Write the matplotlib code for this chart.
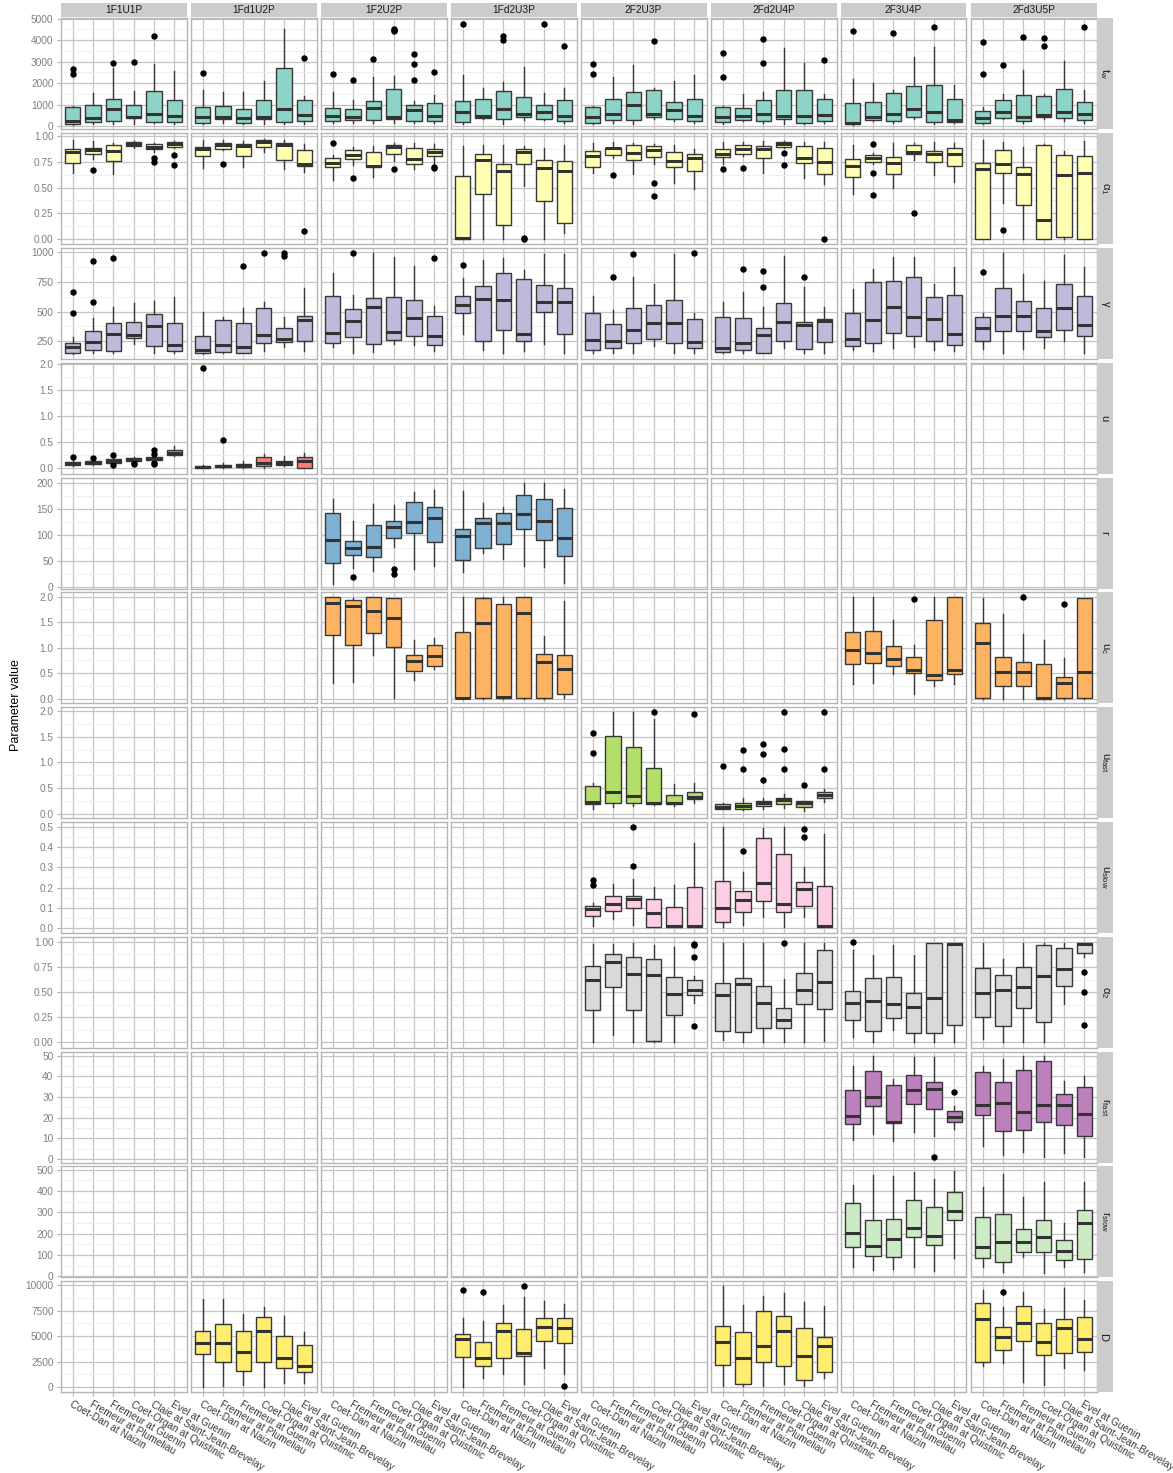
import matplotlib
matplotlib.use("Agg")
import matplotlib.pyplot as plt
from matplotlib.ticker import FixedLocator

plt.rcParams['font.family'] = ['Liberation Sans', 'DejaVu Sans']
plt.rcParams['mathtext.fontset'] = 'custom'
plt.rcParams['mathtext.rm'] = 'Liberation Sans'
plt.rcParams['mathtext.it'] = 'Liberation Sans:italic'

MODELS = ["1F1U1P", "1Fd1U2P", "1F2U2P", "1Fd2U3P",
          "2F2U3P", "2Fd2U4P", "2F3U4P", "2Fd3U5P"]
CATCHMENTS = ["Coet-Dan at Naizin", "Fremeur at Plumeliau", "Fremeur at Guenin",
              "Coet-Organ at Quistinic", "Claie at Saint-Jean-Brevelay", "Evel at Guenin"]

# Box summaries per catchment: (whisker low, q1, median, q3, whisker high, outliers)
TW = {
    "1F1U1P": [(50, 108, 231, 877, 950, [2646, 2415]), (108, 200, 354, 985, 1523, []),
               (108, 231, 815, 1262, 2677, [2923]), (77, 354, 431, 1000, 1646, [3000]),
               (138, 200, 554, 1631, 2877, [4200]), (108, 185, 446, 1215, 2538, [])],
    "1Fd1U2P": [(77, 138, 400, 877, 1677, [2446]), (138, 338, 400, 938, 1600, []),
                (108, 154, 354, 800, 1600, []), (108, 338, 400, 1215, 2108, []),
                (108, 185, 785, 2677, 4492, []), (108, 231, 492, 1231, 1385, [3154])],
    "1F2U2P": [(140, 215, 446, 846, 1600, [2415]), (140, 262, 400, 800, 1231, [2154]),
               (140, 262, 846, 1185, 2292, [3138]), (140, 338, 400, 1723, 2323, [4523, 4477, 4415]),
               (140, 231, 754, 985, 1185, [3369, 2877, 2154]), (140, 215, 477, 1062, 1446, [2523])],
    "1Fd2U3P": [(108, 169, 646, 1169, 2369, [4754]), (323, 369, 446, 1246, 1769, []),
                (108, 338, 785, 1615, 2031, [4200, 3985]), (262, 415, 554, 1354, 2769, []),
                (262, 323, 662, 969, 1538, [4754]), (138, 231, 446, 1200, 1769, [3723])],
    "2F2U3P": [(108, 154, 415, 877, 954, [2892, 2415]), (138, 262, 554, 1246, 2277, []),
               (108, 292, 1000, 1585, 2846, []), (323, 400, 569, 1662, 1769, [3969]),
               (231, 308, 769, 1123, 2108, []), (138, 231, 446, 1246, 2385, [])],
    "2Fd2U4P": [(108, 169, 400, 892, 938, [3385, 2292]), (231, 292, 477, 831, 1477, []),
                (138, 215, 569, 1231, 1600, [4062, 2923]), (108, 323, 477, 1677, 3646, []),
                (108, 138, 446, 1677, 2954, []), (138, 215, 523, 1246, 1492, [3092])],
    "2F3U4P": [(60, 100, 154, 1062, 2200, [4400]), (231, 292, 431, 1123, 2015, []),
               (138, 246, 538, 1538, 1677, [4338]), (323, 431, 785, 1846, 3200, []),
               (108, 169, 662, 1892, 3677, [4600]), (138, 200, 277, 1262, 1908, [])],
    "2Fd3U5P": [(108, 154, 385, 708, 877, [3908, 2431]), (323, 385, 646, 1231, 1492, [2831]),
                (138, 215, 400, 1431, 2615, [4154]), (323, 415, 508, 1415, 1492, [4108, 3708]),
                (231, 354, 677, 1708, 3031, []), (138, 277, 538, 1123, 1677, [4600])],
}

ALPHA1 = {
    "1F1U1P": [(0.647, 0.739, 0.853, 0.876, 0.964, []), (0.775, 0.827, 0.869, 0.892, 0.951, [0.673]),
               (0.631, 0.758, 0.856, 0.918, 0.935, []), (0.889, 0.905, 0.928, 0.948, 0.958, []),
               (0.853, 0.876, 0.902, 0.922, 0.941, [0.791, 0.748]), (0.886, 0.902, 0.925, 0.944, 0.958, [0.820, 0.725])],
    "1Fd1U2P": [(0.696, 0.810, 0.873, 0.902, 0.964, []), (0.866, 0.882, 0.918, 0.935, 0.964, [0.732]),
                (0.703, 0.807, 0.905, 0.922, 0.951, []), (0.853, 0.895, 0.944, 0.967, 0.974, []),
                (0.686, 0.771, 0.912, 0.935, 0.967, []), (0.654, 0.716, 0.732, 0.866, 0.925, [0.075])],
    "1F2U2P": [(0.572, 0.703, 0.745, 0.791, 0.820, [0.938]), (0.722, 0.778, 0.817, 0.863, 0.902, [0.598]),
               (0.608, 0.699, 0.712, 0.846, 0.908, []), (0.758, 0.827, 0.899, 0.915, 0.941, [0.680]),
               (0.680, 0.732, 0.775, 0.889, 0.941, []), (0.729, 0.810, 0.853, 0.873, 0.925, [0.700, 0.690])],
    "1Fd2U3P": [(0.0, 0.0, 0.01, 0.614, 0.905, []), (0.0, 0.441, 0.768, 0.824, 0.912, []),
                (0.0, 0.134, 0.663, 0.729, 0.918, []), (0.52, 0.729, 0.853, 0.876, 0.91, [0.01, 0.0]),
                (0.0, 0.373, 0.690, 0.768, 0.889, []), (0.052, 0.154, 0.663, 0.758, 0.918, [])],
    "2F2U3P": [(0.641, 0.699, 0.807, 0.856, 0.941, []), (0.794, 0.817, 0.886, 0.892, 0.948, [0.627]),
               (0.631, 0.768, 0.837, 0.912, 0.935, []), (0.729, 0.797, 0.863, 0.905, 0.931, [0.546, 0.415]),
               (0.542, 0.703, 0.758, 0.846, 0.915, []), (0.484, 0.660, 0.794, 0.824, 0.876, [])],
    "2Fd2U4P": [(0.729, 0.801, 0.833, 0.873, 0.948, [0.683]), (0.810, 0.833, 0.879, 0.915, 0.948, [0.696]),
                (0.647, 0.788, 0.873, 0.908, 0.951, []), (0.889, 0.899, 0.922, 0.944, 0.954, [0.837, 0.719]),
                (0.592, 0.745, 0.794, 0.905, 0.948, []), (0.539, 0.637, 0.752, 0.892, 0.948, [0.0])],
    "2F3U4P": [(0.441, 0.601, 0.709, 0.778, 0.915, []), (0.729, 0.755, 0.788, 0.817, 0.843, [0.925, 0.647, 0.428]),
               (0.5, 0.637, 0.739, 0.797, 0.941, []), (0.768, 0.827, 0.850, 0.915, 0.941, [0.252]),
               (0.621, 0.748, 0.824, 0.859, 0.948, []), (0.556, 0.716, 0.827, 0.886, 0.935, [])],
    "2Fd3U5P": [(0.0, 0.0, 0.683, 0.745, 0.961, []), (0.353, 0.644, 0.735, 0.866, 0.944, [0.082]),
                (0.0, 0.327, 0.637, 0.699, 0.899, []), (0.0, 0.0, 0.186, 0.915, 0.93, []),
                (0.0, 0.02, 0.621, 0.820, 0.86, []), (0.0, 0.0, 0.647, 0.807, 0.951, [])],
}

GAMMA = {
    "1F1U1P": [(143, 149, 199, 236, 284, [669, 486]), (152, 180, 242, 337, 449, [927, 581]),
               (152, 171, 309, 402, 542, [955]), (228, 278, 301, 410, 573, []),
               (152, 208, 376, 480, 593, []), (152, 166, 216, 404, 621, [])],
    "1Fd1U2P": [(143, 149, 180, 292, 494, []), (155, 163, 219, 427, 458, []),
                (149, 152, 199, 404, 531, [888]), (171, 236, 301, 528, 579, [994]),
                (199, 242, 267, 365, 458, [994, 966]), (166, 250, 430, 466, 699, [])],
    "1F2U2P": [(199, 233, 323, 629, 823, []), (152, 287, 424, 525, 643, [994]),
               (157, 230, 542, 615, 994, []), (228, 264, 326, 626, 963, []),
               (222, 295, 449, 598, 888, []), (171, 219, 295, 466, 545, [949])],
    "1Fd2U3P": [(312, 492, 556, 632, 784, [896]), (180, 253, 610, 713, 935, []),
                (149, 346, 601, 823, 952, []), (171, 253, 309, 775, 851, []),
                (228, 494, 584, 725, 986, []), (149, 312, 579, 702, 986, [])],
    "2F2U3P": [(152, 174, 261, 492, 635, []), (152, 191, 253, 399, 514, [795]),
               (149, 233, 346, 531, 795, [983]), (213, 270, 402, 556, 733, []),
               (152, 236, 402, 601, 983, []), (152, 197, 242, 435, 489, [994])],
    "2Fd2U4P": [(152, 160, 191, 455, 579, []), (152, 177, 233, 447, 669, [857]),
                (149, 152, 301, 360, 542, [846, 711]), (191, 253, 413, 576, 972, []),
                (152, 183, 390, 413, 705, [789]), (152, 247, 424, 435, 542, [])],
    "2F3U4P": [(180, 208, 272, 486, 688, []), (166, 233, 433, 747, 857, []),
               (191, 320, 542, 758, 963, []), (199, 295, 452, 792, 963, []),
               (177, 250, 438, 621, 733, []), (166, 219, 315, 643, 874, [])],
    "2Fd3U5P": [(185, 250, 365, 452, 486, [837]), (152, 340, 461, 702, 992, []),
                (185, 334, 463, 587, 817, []), (191, 284, 334, 531, 761, []),
                (250, 346, 534, 730, 980, []), (149, 295, 385, 629, 874, [])],
}

U = {
    "1F1U1P": [(0.04, 0.064, 0.09, 0.115, 0.154, [0.212]), (0.064, 0.077, 0.103, 0.128, 0.15, [0.19]),
               (0.083, 0.103, 0.141, 0.167, 0.2, [0.244, 0.064]), (0.128, 0.141, 0.167, 0.186, 0.21, [0.096, 0.077]),
               (0.128, 0.147, 0.18, 0.205, 0.224, [0.34, 0.27, 0.10, 0.08]), (0.224, 0.244, 0.295, 0.353, 0.417, [])],
    "1Fd1U2P": [(0.0, 0.0, 0.013, 0.032, 0.05, [1.92]), (0.0, 0.013, 0.045, 0.064, 0.096, [0.54]),
                (0.0, 0.013, 0.051, 0.077, 0.128, []), (0.0, 0.032, 0.096, 0.218, 0.276, []),
                (0.032, 0.051, 0.096, 0.141, 0.224, []), (0.0, 0.0, 0.141, 0.21, 0.288, [])],
}

R = {
    "1F2U2P": [(4.5, 46, 90, 141, 168, []), (35.5, 61, 74, 88, 126, [18]),
               (30, 57, 77, 119, 159, []), (76, 94, 115, 127, 157, [35, 24]),
               (34, 104, 124, 162, 182, []), (39, 85, 132, 154, 185, [])],
    "1Fd2U3P": [(29, 51, 97, 111, 184, []), (64, 74, 123, 132, 161, []),
                (54, 83, 123, 141, 153, []), (39, 111, 139, 177, 199, []),
                (37, 90, 127, 168, 199, []), (8, 59, 93, 152, 187, [])],
}

UC = {
    "1F2U2P": [(0.315, 1.246, 1.869, 1.987, 1.99, []), (0.328, 1.062, 1.823, 1.934, 1.967, []),
               (0.852, 1.292, 1.711, 1.987, 1.99, []), (0.02, 1.01, 1.587, 1.967, 1.97, []),
               (0.367, 0.538, 0.734, 0.852, 1.154, []), (0.577, 0.649, 0.846, 1.062, 1.187, [])],
    "1Fd2U3P": [(0.0, 0.007, 0.013, 1.298, 1.987, []), (0.0, 0.013, 1.482, 1.974, 1.99, []),
                (0.0, 0.013, 0.026, 1.862, 1.987, []), (0.0, 0.013, 1.685, 1.987, 1.99, []),
                (0.0, 0.007, 0.721, 0.879, 1.22, []), (0.02, 0.085, 0.577, 0.859, 1.921, [])],
    "2F3U4P": [(0.295, 0.675, 0.957, 1.298, 1.987, []), (0.302, 0.695, 0.905, 1.325, 1.987, []),
               (0.479, 0.636, 0.78, 1.023, 1.541, []), (0.098, 0.511, 0.564, 0.826, 1.049, [1.948]),
               (0.249, 0.367, 0.472, 1.534, 1.987, []), (0.282, 0.485, 0.57, 1.987, 1.99, [])],
    "2Fd3U5P": [(0.0, 0.007, 1.095, 1.475, 1.974, []), (0.0, 0.256, 0.525, 0.826, 1.659, []),
                (0.0, 0.256, 0.525, 0.728, 1.266, [1.987]), (0.0, 0.0, 0.013, 0.689, 1.148, []),
                (0.0, 0.007, 0.308, 0.433, 0.807, [1.856]), (0.0, 0.007, 0.525, 1.974, 1.98, [])],
}

UFAST = {
    "2F2U3P": [(0.085, 0.177, 0.23, 0.538, 0.6, [1.574, 1.18]), (0.118, 0.203, 0.426, 1.515, 1.987, []),
               (0.151, 0.197, 0.348, 1.311, 1.987, []), (0.16, 0.184, 0.21, 0.892, 1.856, [1.987]),
               (0.138, 0.177, 0.21, 0.361, 0.577, []), (0.197, 0.282, 0.315, 0.413, 0.59, [1.941])],
    "2Fd2U4P": [(0.079, 0.098, 0.131, 0.184, 0.2, [0.931]), (0.07, 0.098, 0.151, 0.197, 0.295, [1.246, 0.866]),
                (0.085, 0.138, 0.197, 0.236, 0.295, [1.364, 1.16, 0.649]),
                (0.105, 0.19, 0.256, 0.302, 0.38, [1.987, 1.259, 0.872]),
                (0.04, 0.118, 0.21, 0.236, 0.25, [0.564]), (0.216, 0.295, 0.361, 0.42, 0.479, [1.987, 0.866])],
}

USLOW = {
    "2F2U3P": [(0.01, 0.06, 0.093, 0.111, 0.124, [0.237, 0.214]), (0.046, 0.085, 0.119, 0.16, 0.217, []),
               (0.018, 0.101, 0.144, 0.16, 0.243, [0.498, 0.307]), (0.005, 0.005, 0.075, 0.142, 0.201, []),
               (0.005, 0.005, 0.013, 0.106, 0.212, []), (0.008, 0.008, 0.013, 0.201, 0.417, [])],
    "2Fd2U4P": [(0.005, 0.031, 0.098, 0.23, 0.498, []), (0.018, 0.078, 0.141, 0.181, 0.275, [0.379]),
                (0.054, 0.132, 0.221, 0.446, 0.495, []), (0.005, 0.082, 0.118, 0.364, 0.498, []),
                (0.054, 0.111, 0.191, 0.225, 0.30, [0.487, 0.448]), (0.008, 0.008, 0.013, 0.209, 0.462, [])],
}

ALPHA2 = {
    "2F2U3P": [(0.0, 0.324, 0.621, 0.759, 0.983, []), (0.076, 0.552, 0.803, 0.876, 0.976, []),
               (0.0, 0.321, 0.683, 0.852, 0.99, []), (0.007, 0.014, 0.676, 0.831, 0.966, []),
               (0.0, 0.276, 0.479, 0.648, 0.945, []), (0.39, 0.476, 0.524, 0.621, 0.66, [0.976, 0.966, 0.855, 0.162])],
    "2Fd2U4P": [(0.021, 0.114, 0.469, 0.593, 0.99, []), (0.0, 0.107, 0.579, 0.645, 0.99, []),
                (0.0, 0.141, 0.397, 0.559, 0.99, []), (0.0, 0.148, 0.228, 0.345, 0.631, [0.993]),
                (0.007, 0.379, 0.521, 0.693, 0.99, []), (0.017, 0.331, 0.597, 0.917, 0.99, [])],
    "2F3U4P": [(0.059, 0.221, 0.39, 0.51, 0.921, [1.0]), (0.0, 0.114, 0.417, 0.638, 0.869, []),
               (0.121, 0.248, 0.383, 0.652, 0.966, []), (0.0, 0.09, 0.352, 0.497, 0.869, []),
               (0.0, 0.097, 0.438, 0.99, 0.99, []), (0.0, 0.176, 0.976, 0.99, 0.99, [])],
    "2Fd3U5P": [(0.034, 0.255, 0.49, 0.745, 0.99, []), (0.0, 0.166, 0.521, 0.669, 0.834, []),
                (0.0, 0.338, 0.552, 0.752, 0.99, []), (0.0, 0.207, 0.662, 0.972, 0.99, []),
                (0.379, 0.562, 0.734, 0.941, 0.99, []), (0.85, 0.893, 0.983, 0.99, 0.99, [0.697, 0.5, 0.172])],
}

RFAST = {
    "2F3U4P": [(9.3, 16.7, 20.7, 33.2, 45, []), (12.1, 25.4, 30.1, 42.4, 49.7, []),
               (8.9, 17.2, 18.0, 36.0, 38.6, []), (13, 26.8, 33.2, 40.8, 49.2, []),
               (11.3, 24.1, 34.0, 37.4, 49.2, [1.2]), (14.7, 17.7, 20.2, 23.4, 25.6, [32.5])],
    "2Fd3U5P": [(6.2, 21.2, 26.1, 41.9, 45, []), (2, 13.5, 27.1, 37.2, 48.5, []),
                (3.2, 14.0, 22.9, 43.1, 49.7, []), (0.8, 18.0, 26.1, 47.5, 49.7, []),
                (2.9, 16.3, 26.1, 31.2, 37.7, []), (0.8, 11.3, 21.7, 35.0, 40.2, [])],
}

RSLOW = {
    "2F3U4P": [(44, 136, 205, 344, 429, []), (28, 95, 143, 266, 475, []),
               (36, 90, 174, 270, 470, []), (41, 185, 226, 356, 487, []),
               (25, 148, 188, 323, 457, []), (87, 262, 308, 397, 495, [])],
    "2Fd3U5P": [(41, 85, 138, 279, 418, []), (20, 69, 161, 290, 479, []),
                (90, 115, 161, 221, 372, []), (16, 115, 185, 266, 443, []),
                (44, 74, 120, 169, 249, []), (21, 80, 249, 311, 441, [])],
}

D = {
    "1Fd1U2P": [(0, 3242, 4300, 5495, 8635, []), (68, 2491, 4369, 6177, 8635, []),
                (171, 1604, 3413, 5495, 7167, []), (0, 2491, 5529, 6860, 7850, []),
                (410, 1843, 2833, 5017, 6997, []), (341, 1468, 2048, 4130, 5358, [])],
    "1Fd2U3P": [(0, 2969, 4676, 5222, 6826, [9556]), (853, 2048, 2799, 4437, 6485, [9317]),
                (1263, 2833, 5461, 6280, 8089, []), (239, 3072, 3345, 5700, 8874, [9898]),
                (1877, 4539, 5939, 6792, 8464, []), (1263, 4334, 5768, 6792, 8191, [102])],
    "2Fd2U4P": [(68, 2150, 4403, 6041, 9898, []), (68, 239, 2833, 5393, 8021, []),
                (68, 2491, 3993, 7440, 8942, []), (273, 2048, 5529, 6997, 9215, []),
                (68, 683, 3003, 5802, 8362, []), (922, 1468, 3993, 4949, 7918, [])],
    "2Fd3U5P": [(2048, 2491, 6655, 8259, 9556, []), (2389, 3652, 4881, 5905, 7850, [9386]),
                (512, 4539, 6246, 7952, 9317, []), (171, 3174, 4403, 6314, 7679, []),
                (1877, 3311, 5802, 6655, 9727, []), (1706, 3413, 4676, 6894, 8533, [])],
}

# Facet rows: strip label, data, fill colour, y-limits, major breaks, label format
PARAMS = [
    (r"$\mathrm{t_w}$", TW, "#8DD3C7", (-150, 5010), [0, 1000, 2000, 3000, 4000, 5000], "{:.0f}"),
    (r"$\mathrm{\alpha_1}$", ALPHA1, "#FFFFB3", (-0.052, 1.033), [0, 0.25, 0.5, 0.75, 1.0], "{:.2f}"),
    (r"$\mathrm{\gamma}$", GAMMA, "#BEBADA", (102, 1037), [250, 500, 750, 1000], "{:.0f}"),
    (r"$\mathrm{u}$", U, "#FB8072", (-0.11, 2.02), [0, 0.5, 1.0, 1.5, 2.0], "{:.1f}"),
    (r"$\mathrm{r}$", R, "#80B1D3", (-3.3, 209.7), [0, 50, 100, 150, 200], "{:.0f}"),
    (r"$\mathrm{u_c}$", UC, "#FDB462", (-0.09, 2.085), [0, 0.5, 1.0, 1.5, 2.0], "{:.1f}"),
    (r"$\mathrm{u_{fast}}$", UFAST, "#B3DE69", (-0.09, 2.085), [0, 0.5, 1.0, 1.5, 2.0], "{:.1f}"),
    (r"$\mathrm{u_{slow}}$", USLOW, "#FCCDE5", (-0.023, 0.523), [0, 0.1, 0.2, 0.3, 0.4, 0.5], "{:.1f}"),
    (r"$\mathrm{\alpha_2}$", ALPHA2, "#D9D9D9", (-0.052, 1.052), [0, 0.25, 0.5, 0.75, 1.0], "{:.2f}"),
    (r"$\mathrm{r_{fast}}$", RFAST, "#BC80BD", (-1.7, 52.0), [0, 10, 20, 30, 40, 50], "{:.0f}"),
    (r"$\mathrm{r_{slow}}$", RSLOW, "#CCEBC5", (-5, 516), [0, 100, 200, 300, 400, 500], "{:.0f}"),
    (r"$\mathrm{D}$", D, "#FFED6F", (-511, 10413), [0, 2500, 5000, 7500, 10000], "{:.0f}"),
]

W, H = 1173, 1473
fig = plt.figure(figsize=(W / 100, H / 100), dpi=100)

PANEL_LEFT, PANEL_PITCH_X, PANEL_W = 60.5, 130.0, 126.0
PANEL_TOP, PANEL_PITCH_Y, PANEL_H = 18.3, 114.8, 111.0

GRID_MAJOR = "#C4C4C4"
GRID_MINOR = "#EDEDED"
BORDER = "#B5B5B5"
STRIP_BG = "#CCCCCC"
TEXT_AXIS = "#808080"
EDGE = "#383838"


def px_rect(x0, y0, w, h):
    return [x0 / W, 1 - (y0 + h) / H, w / W, h / H]


positions = list(range(1, len(CATCHMENTS) + 1))

for r, (label, data, colour, ylim, breaks, fmt) in enumerate(PARAMS):
    y0 = PANEL_TOP + r * PANEL_PITCH_Y
    for c, model in enumerate(MODELS):
        x0 = PANEL_LEFT + c * PANEL_PITCH_X
        ax = fig.add_axes(px_rect(x0, y0, PANEL_W, PANEL_H))
        ax.set_xlim(0.4, 6.6)
        ax.set_ylim(*ylim)
        ax.set_axisbelow(True)

        ax.xaxis.set_major_locator(FixedLocator(positions))
        ax.yaxis.set_major_locator(FixedLocator(breaks))
        step = breaks[1] - breaks[0]
        minors = [b - step / 2 for b in breaks] + [breaks[-1] + step / 2]
        ax.yaxis.set_minor_locator(FixedLocator(minors))

        ax.grid(which="minor", axis="y", color=GRID_MINOR, linewidth=0.6)
        ax.grid(which="major", axis="both", color=GRID_MAJOR, linewidth=0.9)
        for sp in ax.spines.values():
            sp.set_color(BORDER)
            sp.set_linewidth(1.0)

        ax.tick_params(which="major", length=3, width=0.8, color=BORDER,
                       labelsize=7.3, labelcolor=TEXT_AXIS, pad=2)
        ax.tick_params(which="minor", length=0)

        if c == 0:
            ax.set_yticklabels([fmt.format(b) for b in breaks])
        else:
            ax.tick_params(axis="y", labelleft=False, length=0)

        if r == len(PARAMS) - 1:
            ax.set_xticklabels(CATCHMENTS, rotation=-30, ha="left", va="top",
                               rotation_mode="anchor", fontsize=7.3, color="#3A3A3A")
        else:
            ax.tick_params(axis="x", labelbottom=False, length=0)

        boxes = data.get(model)
        if boxes:
            stats = [dict(whislo=b[0], q1=b[1], med=b[2], q3=b[3], whishi=b[4], fliers=b[5])
                     for b in boxes]
            ax.bxp(stats, positions=positions, widths=0.75, patch_artist=True,
                   showcaps=False, manage_ticks=False,
                   boxprops=dict(facecolor=colour, edgecolor=EDGE, linewidth=1.0),
                   medianprops=dict(color="#333333", linewidth=2.2, solid_capstyle="butt"),
                   whiskerprops=dict(color=EDGE, linewidth=1.0),
                   flierprops=dict(marker="o", markerfacecolor="black",
                                   markeredgecolor="black", markersize=3.6))

        # column strip above the first row
        if r == 0:
            sax = fig.add_axes(px_rect(x0, 3.3, PANEL_W, 14.0))
            sax.set_facecolor(STRIP_BG)
            sax.set_xticks([]); sax.set_yticks([])
            for sp in sax.spines.values():
                sp.set_visible(False)
            sax.text(0.5, 0.5, model, ha="center", va="center", fontsize=7.3,
                     color="#1A1A1A", transform=sax.transAxes)

    # row strip on the right
    rax = fig.add_axes(px_rect(PANEL_LEFT + 7 * PANEL_PITCH_X + PANEL_W + 0.5, y0, 16.0, PANEL_H))
    rax.set_facecolor(STRIP_BG)
    rax.set_xticks([]); rax.set_yticks([])
    for sp in rax.spines.values():
        sp.set_visible(False)
    rax.text(0.5, 0.5, label, ha="center", va="center", rotation=-90, fontsize=8,
             color="#1A1A1A", transform=rax.transAxes)

fig.text(16 / W, 1 - 705 / H, "Parameter value", rotation=90, ha="center", va="center",
         fontsize=9, color="#000000")

fig.savefig("out.png", dpi=100)
